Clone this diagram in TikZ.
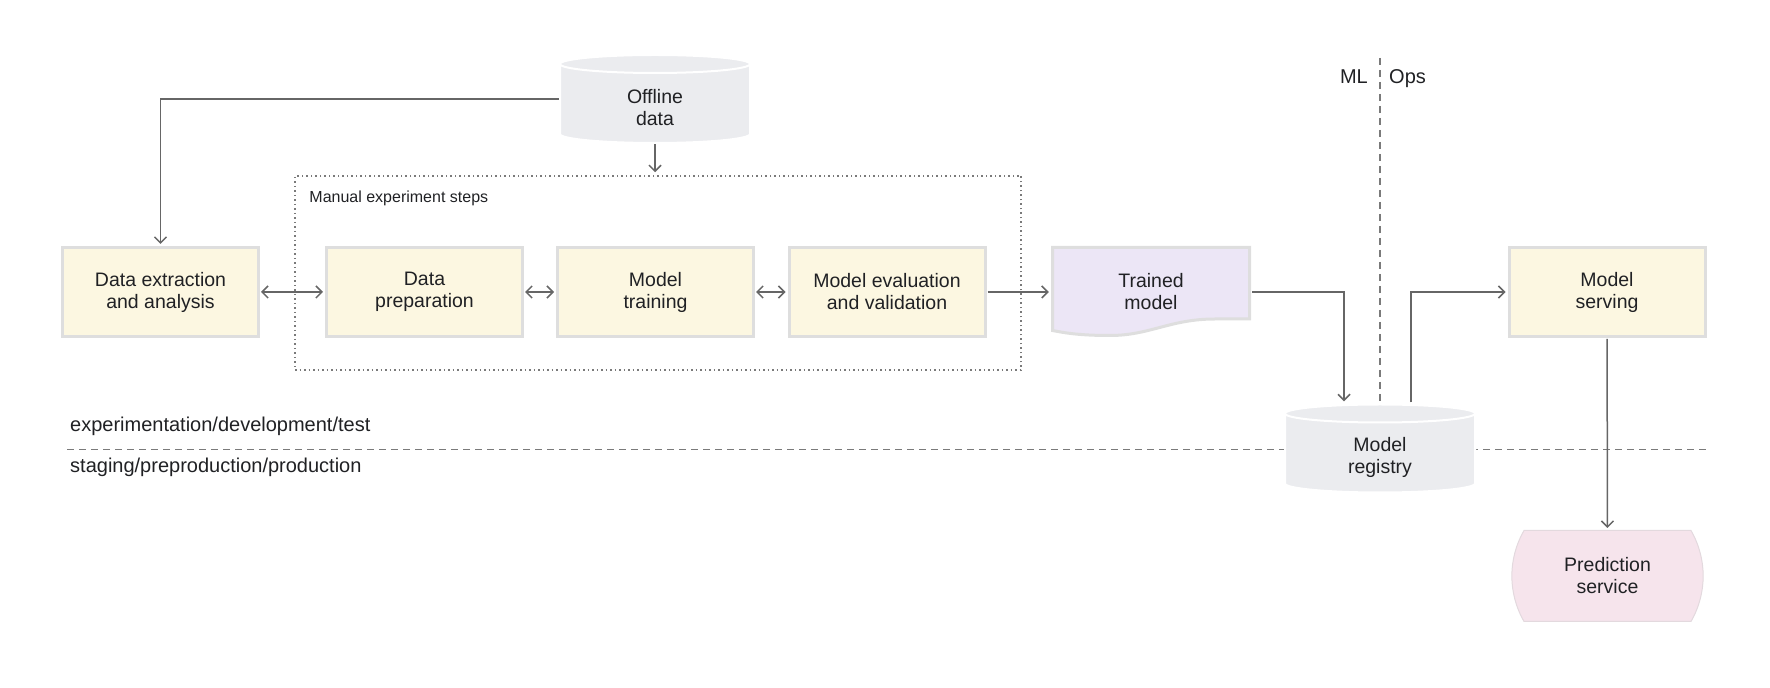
\documentclass[tikz,border=0pt]{standalone}
\usepackage{fontspec}
\setmainfont{Liberation Sans}
\usetikzlibrary{arrows.meta,shapes.misc}

\definecolor{ink}{HTML}{202124}
\definecolor{boxfill}{HTML}{FCF7E1}
\definecolor{boxline}{HTML}{DEDEDE}
\definecolor{docfill}{HTML}{ECE6F6}
\definecolor{dbfill}{HTML}{EBECEF}
\definecolor{predfill}{HTML}{F6E4EC}
\definecolor{predline}{HTML}{E3D9DE}
\definecolor{linegray}{HTML}{666666}
\definecolor{dashgray}{HTML}{7A7A7A}

\newcommand{\boxfont}{\fontsize{19.5}{22}\selectfont}
\newcommand{\tagfont}{\fontsize{20}{22}\selectfont}
\newcommand{\stepsfont}{\fontsize{16}{18}\selectfont}

\tikzset{
  stepbox/.style={draw=boxline, line width=3pt, fill=boxfill, text=ink,
    minimum width=196pt, minimum height=89pt, align=center, font=\boxfont},
  plain/.style={minimum width=200pt, minimum height=92pt, inner sep=0pt,
    text=ink, align=center, font=\boxfont},
  dbnode/.style={minimum width=190pt, minimum height=88pt, inner sep=0pt},
  dbtext/.style={text=ink, align=center, font=\boxfont, inner sep=0pt},
  predbox/.style={shape=rounded rectangle, rounded rectangle arc length=60,
    draw=predline, line width=1pt, fill=predfill, text=ink,
    minimum width=198pt, minimum height=91pt, align=center, font=\boxfont},
  frame/.style={draw=dashgray, line width=1.5pt, dash pattern=on 1.5pt off 3pt,
    minimum width=726pt, minimum height=194pt},
  divider/.style={draw=dashgray, line width=1.5pt, dash pattern=on 7pt off 5pt},
  tag/.style={inner sep=0pt, text=ink, font=\tagfont},
  conn/.style={draw=linegray, line width=1.5pt, shorten <=1pt, shorten >=2pt}
}

\begin{document}
\begin{tikzpicture}[x=1pt, y=1pt, >={Straight Barb[length=6pt,width=12pt]}]
    \useasboundingbox (0,0) rectangle (1770,688);

    \draw[divider] (67,238.5) -- (1710,238.5);

    \foreach \n/\x/\y/\t in {offline/655/589/{Offline\\data}, registry/1380/239.5/{Model\\registry}}{
      \path[fill=dbfill, draw=white, line width=2pt]
        (\x-95,\y+35) arc[start angle=180, end angle=0, x radius=95pt, y radius=9pt]
        -- (\x+95,\y-35) arc[start angle=0, end angle=-180, x radius=95pt, y radius=9pt] -- cycle;
      \draw[white, line width=2pt]
        (\x-95,\y+35) arc[start angle=180, end angle=360, x radius=95pt, y radius=9pt];
      \node[dbnode, label={[dbtext, yshift=-9pt]center:\t}] (\n) at (\x,\y) {};
    }

    \draw[divider] (1380,630) -- ([yshift=2pt]registry.north);

    \node[frame] (steps) at (658,415) {};
    \node[anchor=base west, inner sep=0pt, text=ink, font=\stepsfont] (stepslbl)
      at ([xshift=15pt, yshift=-27pt]steps.north west) {Manual experiment steps};

    \node[stepbox] (ext) at (160.5,396) {Data extraction\\and analysis};
    \node[stepbox] (prep) at (424.5,396) {Data\\preparation};
    \node[stepbox] (train) at (655.5,396) {Model\\training};
    \node[stepbox] (eval) at (887,396) {Model evaluation\\and validation};
    \node[stepbox] (serving) at (1607,396) {Model\\serving};

    \path[fill=docfill, draw=boxline, line width=3pt]
      (1052.5,440.5) -- (1249.5,440.5) -- (1249.5,369) -- (1215,369)
      .. controls (1170,369) and (1150,352.5) .. (1110,352.5)
      .. controls (1080,352.5) and (1065,355) .. (1052.5,357.5) -- cycle;
    \node[plain] (trained) at (1151,396) {Trained\\model};

    \node[predbox] (pred) at (1607.5,112) {Prediction\\service};

    \node[tag, anchor=base east] (ml) at (1368,604) {ML};
    \node[tag, anchor=base west] (ops) at (1389,604) {Ops};
    \node[tag, anchor=base west] (devlbl) at (70,256) {experimentation/development/test};
    \node[tag, anchor=base west] (prodlbl) at (70,215) {staging/preproduction/production};

    \draw[conn, ->] (offline.west) -| (ext.north);
    \draw[conn, ->, shorten >=3pt] (offline.south) -- (offline.south |- steps.north);
    \draw[conn, <->] (ext) -- (prep);
    \draw[conn, <->] (prep) -- (train);
    \draw[conn, <->] (train) -- (eval);
    \draw[conn, ->] (eval) -- (trained);
    \draw[conn, ->, shorten >=3pt] (trained.east) -| ([xshift=-36pt]registry.north);
    \draw[conn, ->, shorten <=2pt] ([xshift=31pt]registry.north) |- (serving.west);
    \draw[conn, ->] (serving) -- (pred);
\end{tikzpicture}
\end{document}
